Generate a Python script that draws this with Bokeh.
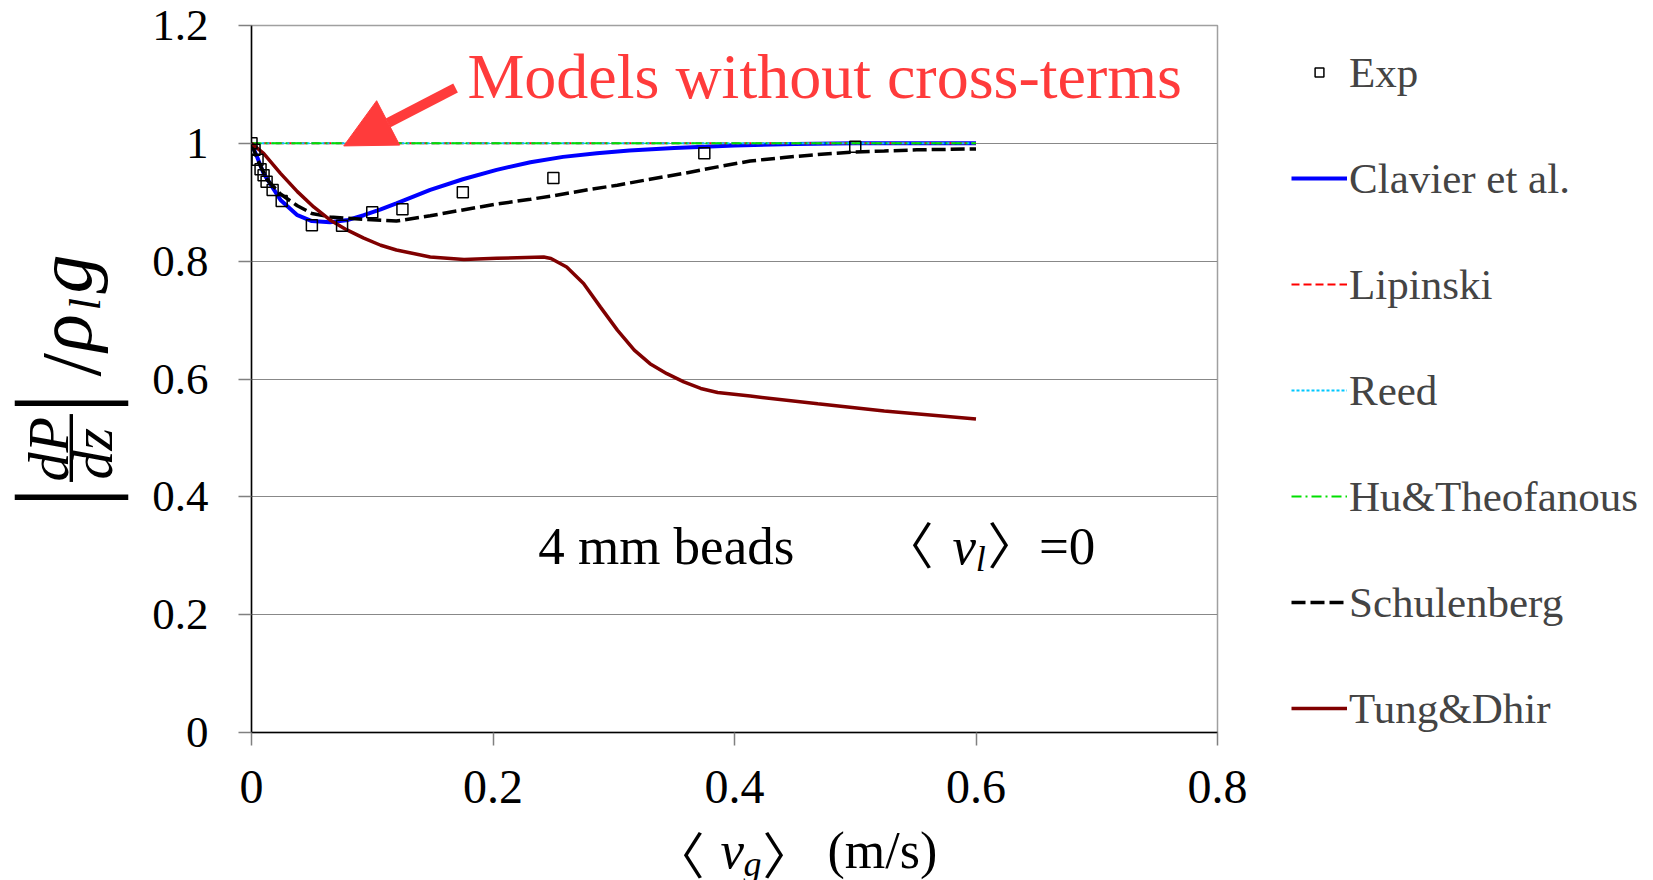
import math
from bokeh.plotting import figure
from bokeh.layouts import row, column
from bokeh.models import (Range1d, FixedTicker, Legend, LegendItem, Label, Arrow,
                          NormalHead)
from bokeh.embed import file_html
from bokeh.resources import INLINE

# ---------------- data ----------------
exp_x = [0, 0.0025, 0.005, 0.0075, 0.01, 0.0125, 0.0175, 0.025, 0.05, 0.075,
         0.1, 0.125, 0.175, 0.25, 0.375, 0.5]
exp_y = [1.0, 0.989, 0.972, 0.956, 0.946, 0.935, 0.921, 0.902, 0.861, 0.860,
         0.883, 0.888, 0.917, 0.941, 0.983, 0.994]

clavier_x = [0, 0.005, 0.01, 0.024, 0.038, 0.05, 0.065, 0.08, 0.093, 0.107,
             0.12, 0.148, 0.175, 0.203, 0.231, 0.258, 0.286, 0.313, 0.35, 0.4,
             0.45, 0.5, 0.55, 0.6]
clavier_y = [1.0, 0.975, 0.949, 0.904, 0.878, 0.868, 0.866, 0.870, 0.878, 0.888,
             0.898, 0.921, 0.939, 0.955, 0.968, 0.977, 0.983, 0.988, 0.992, 0.9965,
             0.999, 1.0, 1.0, 1.0]

nocross_x = [0, 0.6]
lipinski_y = [1.0, 1.0]
reed_y = [1.0, 1.0]
hu_y = [1.0, 1.0]

schul_x = [0, 0.005, 0.013, 0.024, 0.038, 0.05, 0.065, 0.093, 0.12, 0.148,
           0.175, 0.203, 0.231, 0.25, 0.275, 0.303, 0.33, 0.358, 0.386, 0.413,
           0.441, 0.469, 0.496, 0.524, 0.551, 0.6]
schul_y = [1.0, 0.972, 0.938, 0.914, 0.894, 0.881, 0.875, 0.871, 0.868, 0.877,
           0.887, 0.897, 0.905, 0.911, 0.920, 0.929, 0.939, 0.949, 0.960, 0.970,
           0.976, 0.981, 0.985, 0.987, 0.989, 0.9905]

tung_x = [0, 0.01, 0.024, 0.038, 0.0515, 0.065, 0.079, 0.093, 0.107, 0.12,
          0.148, 0.176, 0.203, 0.242, 0.248, 0.261, 0.275, 0.289, 0.303, 0.317,
          0.330, 0.344, 0.358, 0.372, 0.386, 0.413, 0.469, 0.524, 0.6]
tung_y = [1.0, 0.983, 0.949, 0.918, 0.892, 0.870, 0.853, 0.839, 0.827, 0.819,
          0.807, 0.803, 0.805, 0.807, 0.8046, 0.790, 0.762, 0.722, 0.683, 0.649,
          0.626, 0.609, 0.595, 0.584, 0.577, 0.571, 0.558, 0.5456, 0.532]

x_ticks = [0, 0.2, 0.4, 0.6, 0.8]
x_tick_labels = ["0", "0.2", "0.4", "0.6", "0.8"]
y_ticks = [0, 0.2, 0.4, 0.6, 0.8, 1.0, 1.2]
y_tick_labels = ["0", "0.2", "0.4", "0.6", "0.8", "1", "1.2"]

series_names = ["Exp", "Clavier et al.", "Lipinski", "Reed", "Hu&Theofanous",
                "Schulenberg", "Tung&Dhir"]

FONT = "Liberation Serif"
CJK = "Noto Sans CJK JP"
RED = "#FF3B3B"

# ---------------- main plot ----------------
p = figure(frame_width=966, frame_height=707, x_range=Range1d(0, 0.8),
           y_range=Range1d(0, 1.2), output_backend="svg", toolbar_location=None,
           min_border_left=110, min_border_right=0, min_border_top=25,
           min_border_bottom=98)
p.background_fill_color = "white"
p.border_fill_color = "white"
p.outline_line_color = "#A0A0A0"
p.outline_line_width = 1.5

p.xgrid.visible = False
p.ygrid.grid_line_color = "#888888"
p.ygrid.grid_line_width = 1
p.ygrid.ticker = FixedTicker(ticks=y_ticks)

for ax, ticks, labels, fs, so in ((p.xaxis[0], x_ticks, x_tick_labels, "48px", 25),
                                  (p.yaxis[0], y_ticks, y_tick_labels, "45px", 30)):
    ax.ticker = FixedTicker(ticks=ticks)
    ax.major_label_overrides = {float(t): l for t, l in zip(ticks, labels)}
    ax.major_label_text_font = FONT
    ax.major_label_text_font_size = fs
    ax.major_label_text_color = "black"
    ax.major_label_standoff = so
    ax.axis_line_color = "black"
    ax.axis_line_width = 1.5
    ax.major_tick_line_color = "#808080"
    ax.major_tick_line_width = 1.5
    ax.major_tick_out = 13
    ax.major_tick_in = 0
    ax.minor_tick_line_color = None

r_clav = p.line(clavier_x, clavier_y, line_color="#0000FF", line_width=4)
r_lip = p.line(nocross_x, lipinski_y, line_color="#FF0000", line_width=2, line_dash="8 4")
r_reed = p.line(nocross_x, reed_y, line_color="#00C8FF", line_width=2, line_dash="3 2")
r_hu = p.line(nocross_x, hu_y, line_color="#00E000", line_width=2, line_dash="10 4 2 4")
r_sch = p.line(schul_x, schul_y, line_color="black", line_width=3.5, line_dash="14 5")
r_tung = p.line(tung_x, tung_y, line_color="#800000", line_width=3.5)
r_exp = p.scatter(exp_x, exp_y, marker="square", size=11, line_color="black",
                  line_width=1.5, fill_color=None)

rends = [r_exp, r_clav, r_lip, r_reed, r_hu, r_sch, r_tung]
legend = Legend(items=[LegendItem(label=n, renderers=[r]) for n, r in zip(series_names, rends)],
                location=(74, -11), label_text_font=FONT, label_text_font_size="43px",
                glyph_width=56, glyph_height=22, label_height=70, label_standoff=2,
                spacing=36, padding=0, margin=0, border_line_color=None,
                background_fill_alpha=0)
p.add_layout(legend, "right")

p.add_layout(Label(x=0.1788, y=1.1127, text="Models without cross-terms", text_font=FONT,
                   text_font_size="64px", text_color=RED, text_baseline="middle"))
p.add_layout(Arrow(x_start=0.169, y_start=1.094, x_end=0.0764, y_end=0.9956,
                   line_color=RED, line_width=10,
                   end=NormalHead(size=50, fill_color=RED, line_color=RED, line_width=1)))


def lab(fig, x, y, text, size, style="normal", angle=0.0, font=FONT, align="left",
        units="data"):
    fig.add_layout(Label(x=x, y=y, x_units=units, y_units=units, text=text,
                         text_font=font, text_font_size=size, text_font_style=style,
                         angle=angle, text_color="black", text_baseline="middle",
                         text_align=align))


lab(p, 0.2374, 0.3172, "4 mm beads", "53px")
lab(p, 0.5441, 0.3240, "\u3008", "50px", font=CJK, align="center")
lab(p, 0.5805, 0.3172, "v", "53px", style="italic")
lab(p, 0.5997, 0.2940, "l", "36px", style="italic")
lab(p, 0.6302, 0.3240, "\u3009", "50px", font=CJK, align="center")
lab(p, 0.6521, 0.3172, "=0", "53px")


def blank(w, h):
    f = figure(width=w, height=h, x_range=Range1d(0, w), y_range=Range1d(0, h),
               x_axis_type=None, y_axis_type=None, title=None,
               output_backend="svg", toolbar_location=None, min_border=0)
    f.grid.visible = False
    f.outline_line_color = None
    f.background_fill_color = "white"
    f.border_fill_color = "white"
    return f


S = "screen"
# ---------------- y axis title (left strip; offsets from the aligned frame bottom) -------
yl = blank(141, 830)
A = math.pi / 2
lab(yl, 15, 342, "\u2014", "112px", units=S)            # upper |
lab(yl, 15, 247.5, "\u2014", "112px", units=S)          # lower |
lab(yl, 63.4, 251, "\u2014", "67px", angle=A, units=S)  # fraction line
lab(yl, 48.4, 251, "dP", "58px", style="italic", angle=A, units=S)
lab(yl, 92.4, 253, "dz", "58px", style="italic", angle=A, units=S)
lab(yl, 70.3, 356, "/", "85px", angle=A, units=S)
lab(yl, 63.7, 381, "\u03c1", "78px", style="italic", angle=A, units=S)
lab(yl, 84.8, 422, "l", "45px", style="italic", angle=A, units=S)
lab(yl, 63.7, 439, "g", "78px", style="italic", angle=A, units=S)

# ---------------- x axis title (full-width bottom strip) ----------------
xl = blank(1653, 50)
lab(xl, 679, 29, "\u3008", "50px", font=CJK, align="center", units=S)
lab(xl, 720, 31, "v", "53px", style="italic", units=S)
lab(xl, 743, 17, "g", "36px", style="italic", units=S)
lab(xl, 787, 29, "\u3009", "50px", font=CJK, align="center", units=S)
lab(xl, 827, 30.5, "(m/s)", "52px", units=S)

layout = column(row(yl, p, spacing=0), xl, spacing=0)
open("out.html", "w").write(file_html(layout, INLINE))
